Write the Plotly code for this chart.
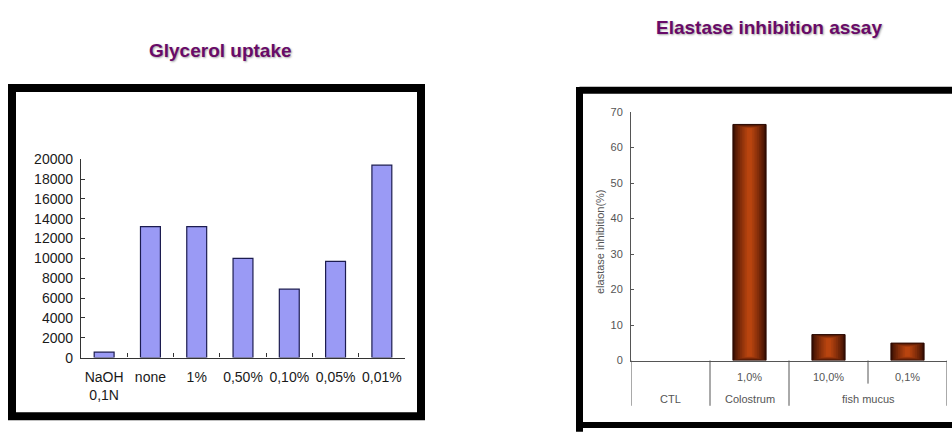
import plotly.graph_objects as go

W, H = 952, 434

# ---- Glycerol uptake data ----
gly_categories = ["NaOH 0,1N", "none", "1%", "0,50%", "0,10%", "0,05%", "0,01%"]
gly_ticktext = ["NaOH<br>0,1N", "none", "1%", "0,50%", "0,10%", "0,05%", "0,01%"]
gly_values = [550, 13200, 13200, 10000, 6900, 9700, 19400]

# ---- Elastase inhibition data ----
ela_concentration = ["", "1,0%", "10,0%", "0,1%"]
ela_group = ["CTL", "Colostrum", "fish mucus", "fish mucus"]
ela_values = [0, 66.5, 7.3, 4.9]


def px_x(p):
    return p / W


def px_y(p):
    return 1 - p / H


def mix(c1, c2, t):
    a = [int(c1[i:i + 2], 16) for i in (1, 3, 5)]
    b = [int(c2[i:i + 2], 16) for i in (1, 3, 5)]
    return "#" + "".join(f"{round(a[k] + (b[k] - a[k]) * t):02x}" for k in range(3))


fig = go.Figure()

# left chart: lavender bars
fig.add_trace(go.Bar(
    x=gly_categories, y=gly_values, width=0.43,
    marker=dict(color="#9a9af5", line=dict(color="#1c1c50", width=1.2)),
    xaxis="x", yaxis="y", showlegend=False, hoverinfo="x+y",
))

# right chart: brown bars with a glowing centre, built from nested layers
ela_x = list(range(len(ela_values)))
n_layers = 9
edge_col, core_col = "#3a0f03", "#b8440f"
for i in range(n_layers):
    t = i / (n_layers - 1)
    w = 0.42 * (1 - 0.85 * t)
    inset = 1.1 * t
    bases = [inset if v > 0 else 0 for v in ela_values]
    heights = [max(v - 2 * inset, 0) if v > 0 else 0 for v in ela_values]
    outline = [1 if (i == 0 and v > 0) else 0 for v in ela_values]
    fig.add_trace(go.Bar(
        x=ela_x, y=heights, base=bases, width=w,
        marker=dict(color=mix(edge_col, core_col, t ** 0.8),
                    line=dict(color="#2a0800", width=outline)),
        xaxis="x2", yaxis="y2", showlegend=False,
        hoverinfo="skip" if i else "y",
    ))

axis_font_left = dict(family="Liberation Sans, Arial, sans-serif", size=14, color="#1a1a1a")
axis_font_right = dict(family="Liberation Sans, Arial, sans-serif", size=11, color="#555555")

fig.update_layout(
    width=W, height=H,
    margin=dict(l=0, r=0, t=0, b=0),
    paper_bgcolor="white", plot_bgcolor="rgba(0,0,0,0)",
    barmode="overlay",
    xaxis=dict(
        domain=[px_x(81), px_x(405)], type="category",
        categoryorder="array", categoryarray=gly_categories,
        tickvals=gly_categories, ticktext=gly_ticktext, tickangle=0,
        tickson="boundaries", ticks="inside", ticklen=4, tickcolor="#333",
        showline=True, linecolor="#333", linewidth=1.3,
        showgrid=False, zeroline=False, tickfont=axis_font_left,
        ticklabelstandoff=6,
    ),
    yaxis=dict(
        domain=[px_y(363), px_y(157)], range=[0, 20000], dtick=2000,
        tickformat="d",
        ticks="inside", ticklen=4, tickcolor="#333",
        showline=True, linecolor="#333", linewidth=1.3,
        showgrid=False, zeroline=False, tickfont=axis_font_left,
        ticklabelstandoff=4,
    ),
    xaxis2=dict(
        domain=[px_x(631), px_x(947)], range=[-0.5, 3.5],
        tickvals=ela_x, ticktext=ela_concentration, ticks="", tickangle=0,
        showline=True, linecolor="#555", linewidth=1,
        showgrid=False, zeroline=False, tickfont=axis_font_right,
        ticklabelstandoff=6, anchor="y2",
    ),
    yaxis2=dict(
        domain=[px_y(366), px_y(108)], range=[0, 70], dtick=10,
        ticks="inside", ticklen=3, tickcolor="#555",
        showline=True, linecolor="#555", linewidth=1,
        showgrid=False, zeroline=False, tickfont=axis_font_right,
        ticklabelstandoff=5, anchor="x2",
    ),
)

shapes = []
# black frames around each chart
shapes.append(dict(type="rect", xref="paper", yref="paper",
                   x0=px_x(12), x1=px_x(421), y0=px_y(83), y1=px_y(424),
                   line=dict(color="black", width=8)))
# second frame runs off the right and bottom edges of the page
shapes.append(dict(type="line", xref="paper", yref="paper",
                   x0=px_x(579.5), x1=px_x(1000), y0=px_y(85.5), y1=px_y(85.5),
                   line=dict(color="black", width=7)))
shapes.append(dict(type="line", xref="paper", yref="paper",
                   x0=px_x(579.5), x1=px_x(579.5), y0=px_y(82), y1=px_y(440),
                   line=dict(color="black", width=7)))
shapes.append(dict(type="line", xref="paper", yref="paper",
                   x0=px_x(576), x1=px_x(1000), y0=px_y(433), y1=px_y(433),
                   line=dict(color="black", width=6)))

# category dividers below the elastase axis
y_axis0 = px_y(366)
y_long = px_y(413)
y_short = px_y(390)
shapes.append(dict(type="line", xref="x2", yref="paper", x0=-0.5, x1=-0.5,
                   y0=y_axis0, y1=y_long, line=dict(color="#555", width=1)))
for k in range(len(ela_values)):
    b = k + 0.5
    same_group = k + 1 < len(ela_group) and ela_group[k] == ela_group[k + 1]
    shapes.append(dict(type="line", xref="x2", yref="paper", x0=b, x1=b,
                       y0=y_axis0, y1=y_short if same_group else y_long,
                       line=dict(color="#555", width=1)))
fig.update_layout(shapes=shapes)

annotations = []
# group labels under the concentrations
groups = []
for k, g in enumerate(ela_group):
    if groups and groups[-1][0] == g:
        groups[-1][1].append(k)
    else:
        groups.append((g, [k]))
for g, idx in groups:
    annotations.append(dict(x=sum(idx) / len(idx), y=px_y(406), xref="x2", yref="paper",
                            text=g, showarrow=False, font=axis_font_right,
                            xanchor="center", yanchor="middle"))

annotations.append(dict(x=px_x(600), y=px_y(243), xref="paper", yref="paper",
                        text="elastase inhibition(%)", textangle=-90, showarrow=False,
                        font=dict(family="Liberation Sans, Arial, sans-serif", size=11, color="#555"),
                        xanchor="center", yanchor="middle"))

title_font = dict(family="Liberation Sans, Arial, sans-serif", size=19, color="#680a68",
                  weight="bold", shadow="1px 1px 2px rgba(0,0,0,0.35)")
annotations.append(dict(x=px_x(220), y=px_y(44), xref="paper", yref="paper",
                        text="Glycerol uptake", showarrow=False, font=title_font,
                        xanchor="center", yanchor="middle"))
annotations.append(dict(x=px_x(769), y=px_y(20), xref="paper", yref="paper",
                        text="Elastase inhibition assay", showarrow=False, font=title_font,
                        xanchor="center", yanchor="middle"))
fig.update_layout(annotations=annotations)

fig.write_html("out.html")
